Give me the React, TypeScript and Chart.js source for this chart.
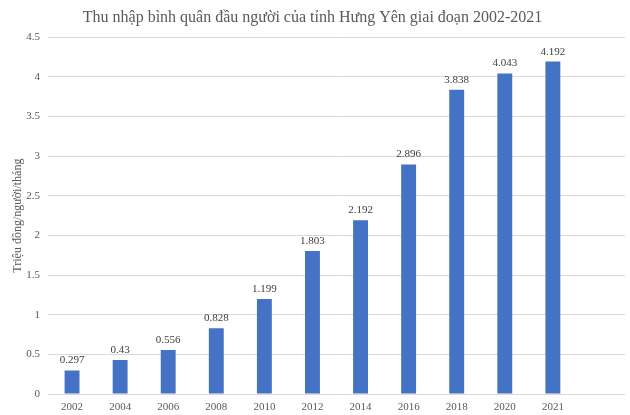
import React, { useEffect, useRef } from "react";
import { Chart, registerables } from "chart.js";

Chart.register(...registerables);

const TITLE = "Thu nhập bình quân đầu người của tỉnh Hưng Yên giai đoạn 2002-2021";
const Y_TITLE = "Triệu đồng/người/tháng";
const YEARS = ["2002", "2004", "2006", "2008", "2010", "2012", "2014", "2016", "2018", "2020", "2021", ""];
const INCOME: (number | null)[] = [0.297, 0.43, 0.556, 0.828, 1.199, 1.803, 2.192, 2.896, 3.838, 4.043, 4.192, null];

const FONT = "'Liberation Serif', 'Times New Roman', serif";

const labelPlugin = {
  id: "barLabels",
  afterDatasetsDraw(chart: any) {
    const ctx = chart.ctx;
    const meta = chart.getDatasetMeta(0);
    ctx.save();
    ctx.font = `11px ${FONT}`;
    ctx.fillStyle = "#404040";
    ctx.textAlign = "center";
    ctx.textBaseline = "alphabetic";
    meta.data.forEach((el: any, i: number) => {
      const v = INCOME[i];
      if (v === null || v === undefined) return;
      ctx.fillText(String(v), el.x, el.y - 7);
    });
    ctx.restore();
  },
};

export default function App() {
  const ref = useRef<HTMLCanvasElement | null>(null);
  useEffect(() => {
    document.body.style.margin = "0";
    if (!ref.current) return;
    const chart = new Chart(ref.current, {
      type: "bar",
      data: {
        labels: YEARS,
        datasets: [
          {
            data: INCOME,
            backgroundColor: "#4472C4",
            categoryPercentage: 1,
            barPercentage: 0.31,
          },
        ],
      },
      options: {
        responsive: false,
        animation: false,
        layout: { padding: { left: 0, right: 5, top: 0, bottom: 0 } },
        plugins: {
          legend: { display: false },
          tooltip: { enabled: false },
          title: {
            display: true,
            text: TITLE,
            color: "#595959",
            font: { family: FONT, size: 16, weight: "normal" },
            padding: { top: 8, bottom: 10 },
          },
        },
        scales: {
          x: {
            grid: { display: false, drawTicks: false },
            border: { display: false },
            ticks: {
              color: "#595959",
              font: { family: FONT, size: 11 },
              padding: 7,
              maxRotation: 0,
              autoSkip: false,
            },
            afterFit(scale: any) {
              scale.height = 21;
            },
          },
          y: {
            min: 0,
            max: 4.5,
            ticks: {
              stepSize: 0.5,
              color: "#595959",
              font: { family: FONT, size: 11 },
              padding: 8,
              callback: (v: any) => String(Number(v)),
            },
            grid: { color: "#d9d9d9", lineWidth: 1, drawTicks: false },
            border: { display: false },
            title: {
              display: true,
              text: Y_TITLE,
              color: "#595959",
              font: { family: FONT, size: 12 },
              padding: { top: 11, bottom: 0 },
            },
            afterFit(scale: any) {
              scale.width = 48;
            },
          },
        },
      },
      plugins: [labelPlugin],
    } as any);
    return () => chart.destroy();
  }, []);
  return <canvas ref={ref} width={630} height={415} style={{ display: "block" }} />;
}
